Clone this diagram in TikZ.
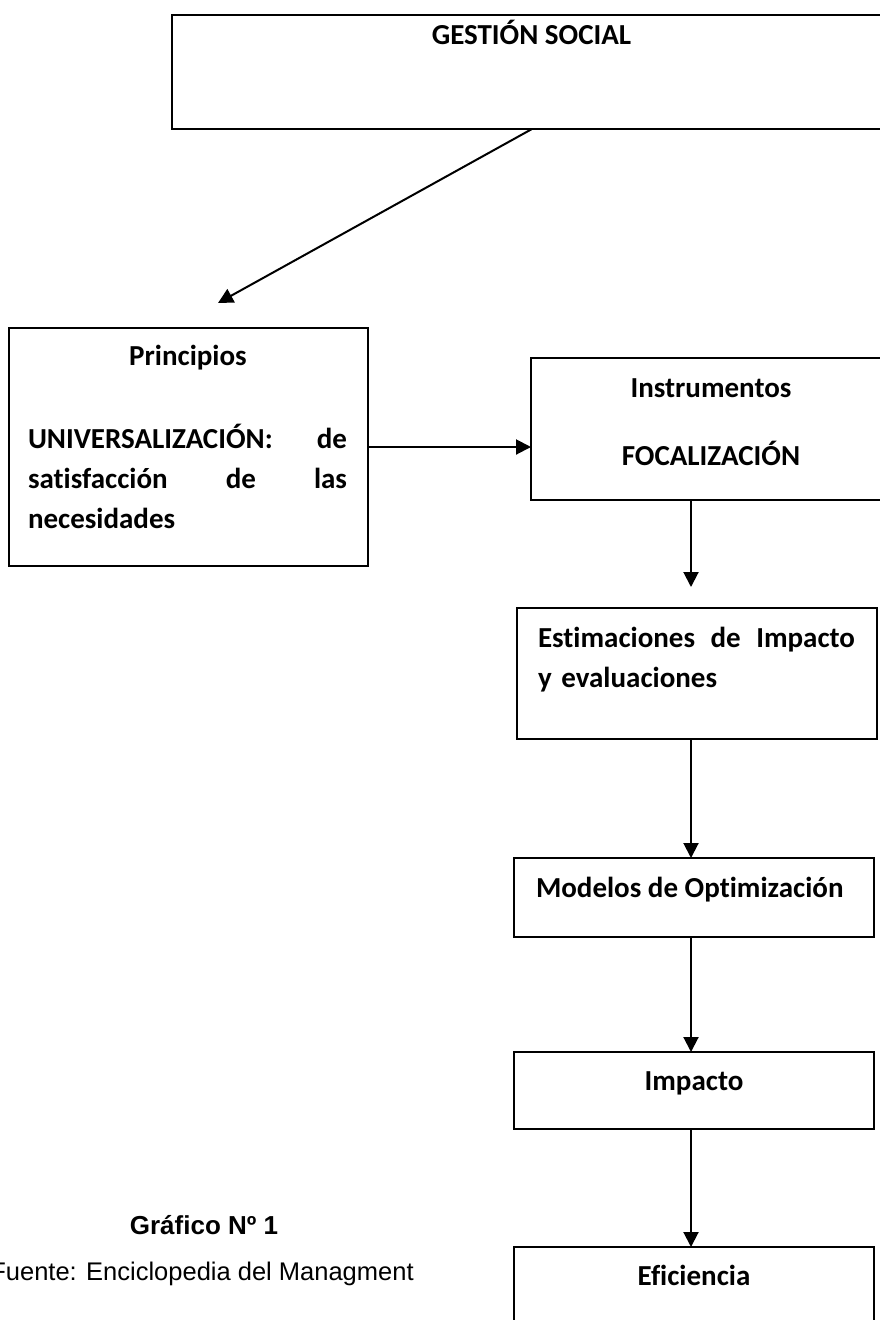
\documentclass[tikz,border=0pt]{standalone}
\usepackage{fontspec}
\setmainfont{Carlito}[Ligatures=NoCommon]
\newfontfamily\arialfont{Liberation Sans}
\usetikzlibrary{arrows.meta,positioning}

\begin{document}
\begin{tikzpicture}[x=1pt, y=-1pt, every node/.style={rectangle, inner sep=0pt, outer sep=0pt}, line width=2pt, >={Triangle[length=15pt,width=15pt]},
	box/.style={draw},
	lbl/.style={font=\fontsize{29}{40}\selectfont\bfseries},
	caption/.style={font=\arialfont\fontsize{25.5}{30}\selectfont}]
	\useasboundingbox (0,0) rectangle (880,1320);
	\node[box, minimum width=719pt, minimum height=114.5pt] (gestion) at (531.5,72) {};
	\node[lbl, anchor=base] (gestionText) at (531.5,44) {GESTIÓN SOCIAL};
	\node[box, minimum width=359pt, minimum height=238pt] (principios) at (188.5,447) {};
	\node[lbl, anchor=base] (principiosText) at (188,365) {Principios};
	\node[lbl, anchor=base west, text width=319pt, align=left] (universalText) at (28,448) {UNIVERSALIZACIÓN:\hfill de\\satisfacción\hfill de\hfill las\\necesidades};
	\node[box, minimum width=360pt, minimum height=142.5pt] (instrumentos) at (711,429) {};
	\node[lbl, anchor=base] (instrumentosText) at (711,397) {Instrumentos};
	\node[lbl, anchor=base] (focalizacionText) at (711,465) {FOCALIZACIÓN};
	\node[box, minimum width=360pt, minimum height=131pt] (estimaciones) at (697,673.5) {};
	\node[lbl, anchor=base west, text width=317pt, align=left] (estimacionesText) at (538,647) {Estimaciones\hfill de\hfill Impacto\\y evaluaciones};
	\node[box, minimum width=360pt, minimum height=79pt] (modelos) at (694,897.5) {};
	\node[lbl, anchor=base west] (modelosText) at (536,897) {Modelos de Optimización};
	\node[box, minimum width=360pt, minimum height=77pt] (impacto) at (694,1090.5) {};
	\node[lbl, anchor=base] (impactoText) at (694,1090) {Impacto};
	\node[box, minimum width=360pt, minimum height=133pt] (eficiencia) at (694,1313.5) {};
	\node[lbl, anchor=base] (eficienciaText) at (694,1285) {Eficiencia};
	\node[caption, anchor=base, font=\arialfont\bfseries\fontsize{26}{30}\selectfont] (graficoText) at (204,1234) {Gráfico Nº 1};
	\node[caption, anchor=base] (fuenteText) at (202,1280) {Fuente: Enciclopedia del Managment};
	\coordinate (principiosTip) at (218,303);
	\coordinate (colx) at (691,0);
	\coordinate (estimacionesTip) at (691,587);
	\draw[->] (gestion.south) -- (principiosTip);
	\draw[->] (principios.east) -- (principios.east -| instrumentos.west);
	\draw[->] (instrumentos.south -| colx) -- (estimacionesTip);
	\draw[->] (estimaciones.south -| colx) -- (modelos.north -| colx);
	\draw[->] (modelos.south -| colx) -- (impacto.north -| colx);
	\draw[->] (impacto.south -| colx) -- (eficiencia.north -| colx);
\end{tikzpicture}
\end{document}
